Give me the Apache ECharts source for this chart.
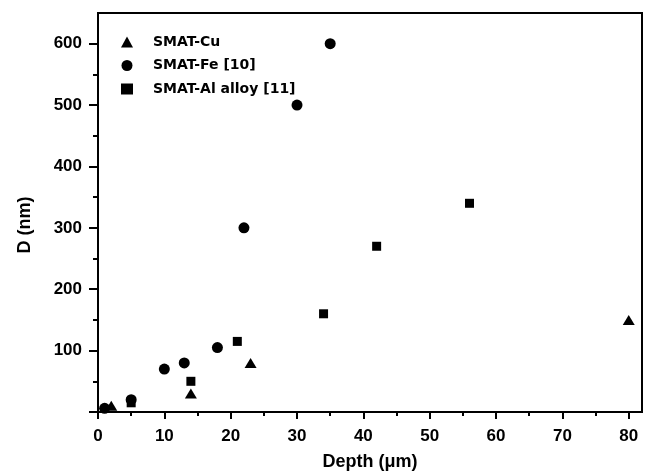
<!DOCTYPE html>
<html>
<head>
<meta charset="utf-8">
<script src="https://cdn.jsdelivr.net/npm/echarts@6/dist/echarts.min.js"></script>
<style>
html,body{margin:0;padding:0;background:#fff;}
#chart{width:648px;height:476px;}
</style>
</head>
<body>
<div id="chart"></div>
<script>
// Data: [depth (µm), D (nm)]
const seriesNames = ['SMAT-Cu', 'SMAT-Fe [10]', 'SMAT-Al alloy [11]'];
const cuData = [[2, 10], [14, 30], [23, 80], [80, 150]];
const feData = [[1, 6], [5, 20], [10, 70], [13, 80], [18, 105], [22, 300], [30, 500], [35, 600]];
const alData = [[5, 15], [14, 50], [21, 115], [34, 160], [42, 270], [56, 340]];
const xMajorTicks = [0, 10, 20, 30, 40, 50, 60, 70, 80];
const xMinorTicks = [5, 15, 25, 35, 45, 55, 65, 75];
const yMajorTicks = [0, 100, 200, 300, 400, 500, 600];
const yLabelValues = [100, 200, 300, 400, 500, 600];
const yMinorTicks = [50, 150, 250, 350, 450, 550];

const chart = echarts.init(document.getElementById('chart'));
const tickFont = {color: '#000', fontFamily: "'Liberation Sans', Arial, sans-serif", fontWeight: 'bold', fontSize: 17};
const titleFont = {color: '#000', fontFamily: "'Liberation Sans', Arial, sans-serif", fontWeight: 'bold', fontSize: 18};

chart.setOption({
  animation: false,
  backgroundColor: '#fff',
  grid: {left: 98, right: 6, top: 13, bottom: 63, show: true, borderColor: '#000', borderWidth: 2},
  legend: {
    orient: 'vertical',
    left: 121,
    top: 35,
    padding: 0,
    itemWidth: 12,
    itemHeight: 11,
    itemGap: 9.5,
    data: seriesNames,
    itemStyle: {opacity: 1},
    textStyle: {color: '#000', fontFamily: "'DejaVu Sans', sans-serif", fontWeight: 'bold', fontSize: 14, padding: [0, 0, 0, 15]}
  },
  xAxis: [{
    type: 'value', min: 0, max: 82,
    name: 'Depth (\u03bcm)', nameLocation: 'middle', nameGap: 41,
    nameTextStyle: titleFont,
    axisLine: {show: true, onZero: false, lineStyle: {color: '#000', width: 2}},
    axisTick: {show: true, inside: false, length: 7, customValues: xMajorTicks, lineStyle: {color: '#000', width: 2}},
    axisLabel: Object.assign({customValues: xMajorTicks, margin: 16}, tickFont),
    splitLine: {show: false}
  }, {
    type: 'value', min: 0, max: 82, position: 'bottom',
    axisLine: {show: false},
    axisTick: {show: true, inside: false, length: 4, customValues: xMinorTicks, lineStyle: {color: '#000', width: 2}},
    axisLabel: {show: false},
    splitLine: {show: false}
  }],
  yAxis: [{
    type: 'value', min: 0, max: 650,
    name: 'D (nm)', nameLocation: 'middle', nameGap: 64,
    nameTextStyle: Object.assign({padding: [0, 25, 0, 0]}, titleFont),
    axisLine: {show: true, onZero: false, lineStyle: {color: '#000', width: 2}},
    axisTick: {show: true, inside: false, length: 9, customValues: yMajorTicks, lineStyle: {color: '#000', width: 2}},
    axisLabel: Object.assign({customValues: yLabelValues, margin: 16}, tickFont),
    splitLine: {show: false}
  }, {
    type: 'value', min: 0, max: 650, position: 'left',
    axisLine: {show: false},
    axisTick: {show: true, inside: false, length: 5, customValues: yMinorTicks, lineStyle: {color: '#000', width: 2}},
    axisLabel: {show: false},
    splitLine: {show: false}
  }],
  series: [{
    name: seriesNames[0], type: 'scatter', data: cuData,
    symbol: 'triangle', symbolSize: [12, 10],
    itemStyle: {color: '#000', opacity: 1}
  }, {
    name: seriesNames[1], type: 'scatter', data: feData,
    symbol: 'circle', symbolSize: 11,
    itemStyle: {color: '#000', opacity: 1}
  }, {
    name: seriesNames[2], type: 'scatter', data: alData,
    symbol: 'rect', symbolSize: 9,
    itemStyle: {color: '#000', opacity: 1}
  }]
});
</script>
</body>
</html>
